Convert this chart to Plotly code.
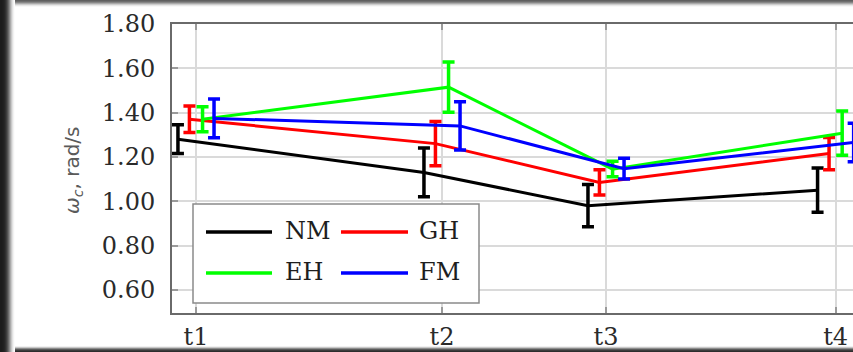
import plotly.graph_objects as go

# ---- data ----
tick_labels = ["t1", "t2", "t3", "t4"]
tick_pos = [1.0, 2.5, 3.5, 4.9]
series_names = ["NM", "GH", "EH", "FM"]
series_colors = ["#000000", "#ff0000", "#00ff00", "#0000ff"]
series_shift = [-0.11, -0.04, 0.04, 0.11]

nm_mean = [1.28, 1.13, 0.98, 1.05]
nm_err = [0.065, 0.11, 0.095, 0.10]
gh_mean = [1.37, 1.26, 1.085, 1.215]
gh_err = [0.06, 0.10, 0.057, 0.073]
eh_mean = [1.37, 1.515, 1.145, 1.307]
eh_err = [0.056, 0.113, 0.035, 0.10]
fm_mean = [1.374, 1.34, 1.147, 1.265]
fm_err = [0.087, 0.109, 0.047, 0.087]

means = [nm_mean, gh_mean, eh_mean, fm_mean]
errs = [nm_err, gh_err, eh_err, fm_err]

y_ticks = [0.6, 0.8, 1.0, 1.2, 1.4, 1.6, 1.8]
y_tick_text = ["0.60", "0.80", "1.00", "1.20", "1.40", "1.60", "1.80"]

W, H = 853, 352
ML, MR, MT, MB = 172, 0, 24, 39
PW, PH = W - ML - MR, H - MT - MB


def px(x):
    return (x - ML) / PW


def py(y):
    return (H - MB - y) / PH


FONT = "DejaVu Serif"

fig = go.Figure()
for name, col, sh, m, e in zip(series_names, series_colors, series_shift, means, errs):
    fig.add_trace(go.Scatter(
        x=[t + sh for t in tick_pos], y=m, mode="lines", name=name,
        line=dict(color=col, width=3),
        error_y=dict(type="data", array=e, visible=True, color=col,
                     thickness=3.5, width=6),
        showlegend=False,
    ))

shapes = []
annotations = []

# legend (drawn manually to match the two-column boxed legend)
shapes.append(dict(type="rect", xref="paper", yref="paper",
                   x0=px(193), x1=px(479), y0=py(303), y1=py(204),
                   fillcolor="white", line=dict(color="#8a8a8a", width=1.5),
                   layer="above"))
leg_cols = [(206, 272, 283), (341, 408, 417)]
leg_rows = [232, 273]
for i, (name, col) in enumerate(zip(series_names, series_colors)):
    r, c = divmod(i, 2)
    x0, x1, xt = leg_cols[c]
    yy = leg_rows[r]
    shapes.append(dict(type="line", xref="paper", yref="paper",
                       x0=px(x0), x1=px(x1), y0=py(yy), y1=py(yy),
                       line=dict(color=col, width=3.5), layer="above"))
    annotations.append(dict(xref="paper", yref="paper", x=px(xt), y=py(yy - 1),
                            text=name, showarrow=False, xanchor="left",
                            yanchor="middle",
                            font=dict(family=FONT, size=24, color="#1e1e1e")))

# y-axis title
annotations.append(dict(xref="paper", yref="paper", x=px(73), y=py(170),
                        text="<i>ω</i><sub><i>c</i></sub>, rad/s", showarrow=False,
                        textangle=-90, xanchor="center", yanchor="middle",
                        font=dict(family="DejaVu Sans", size=20, color="#5a5a5a")))

# dark screenshot frame (top, bottom, left)
top_levels = [95, 110, 135, 170, 205, 232, 248]
for i, g in enumerate(top_levels):
    shapes.append(dict(type="rect", xref="paper", yref="paper",
                       x0=px(0), x1=px(W), y0=py(i + 1), y1=py(i),
                       fillcolor=f"rgb({g},{g},{g})", line=dict(width=0), layer="above"))
bot_levels = [45, 60, 90, 140, 200, 240]
for i, g in enumerate(bot_levels):
    shapes.append(dict(type="rect", xref="paper", yref="paper",
                       x0=px(0), x1=px(W), y0=py(H - i), y1=py(H - i - 1),
                       fillcolor=f"rgb({g},{g},{g})", line=dict(width=0), layer="above"))
left_levels = [28, 28, 30, 33, 38, 48, 62, 82, 108, 138, 170, 200, 225, 242, 252]
for i, g in enumerate(left_levels):
    shapes.append(dict(type="rect", xref="paper", yref="paper",
                       x0=px(i), x1=px(i + 1), y0=py(H), y1=py(0),
                       fillcolor=f"rgb({g},{g},{g})", line=dict(width=0), layer="above"))

fig.update_layout(
    width=W, height=H,
    margin=dict(l=ML, r=MR, t=MT, b=MB, pad=0),
    paper_bgcolor="white", plot_bgcolor="white",
    showlegend=False,
    shapes=shapes, annotations=annotations,
    xaxis=dict(range=[0.8537, 5.006], tickmode="array",
               tickvals=tick_pos, ticktext=tick_labels,
               showgrid=True, gridcolor="#dadada", gridwidth=1.5,
               showline=True, linecolor="#6a6a6a", linewidth=2, mirror="allticks",
               ticks="inside", ticklen=6, tickcolor="#9a9a9a", tickwidth=1.5,
               zeroline=False, ticklabelstandoff=1,
               tickfont=dict(family=FONT, size=24, color="#2a2a2a")),
    yaxis=dict(range=[0.4955, 1.8], tickmode="array",
               tickvals=y_ticks, ticktext=y_tick_text,
               showgrid=True, gridcolor="#dadada", gridwidth=1.5,
               showline=True, linecolor="#6a6a6a", linewidth=2, mirror=False,
               ticks="inside", ticklen=6, tickcolor="#9a9a9a", tickwidth=1.5,
               zeroline=False, ticklabelstandoff=10,
               tickfont=dict(family=FONT, size=24, color="#2a2a2a")),
)

fig.write_html("out.html")
